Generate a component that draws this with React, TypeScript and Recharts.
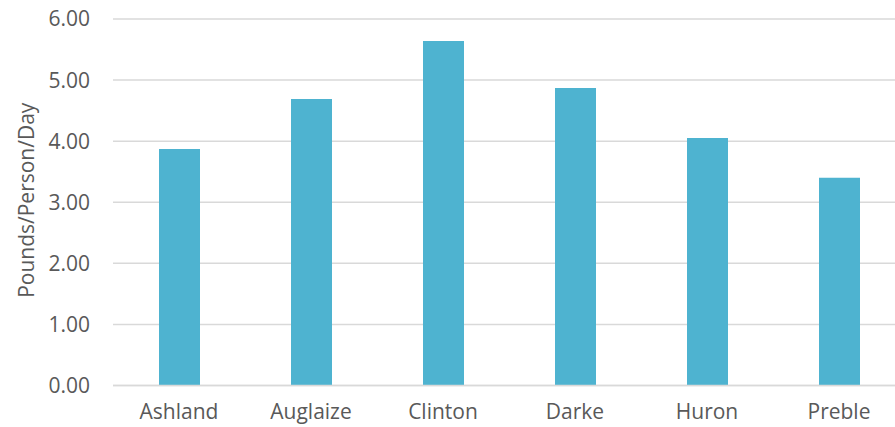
import { BarChart, Bar, XAxis, YAxis, CartesianGrid } from "recharts";

const BAR_BLUE = "#4EB3D0";
const GRID = "#D9D9D9";
const TEXT = "#595959";
const FONT = "'Open Sans', sans-serif";

// ── Data ─────────────────────────────────────────────────────────────────────
const counties = ["Ashland", "Auglaize", "Clinton", "Darke", "Huron", "Preble"];
const poundsPerPersonPerDay = [3.87, 4.69, 5.64, 4.87, 4.05, 3.4];
const yTicks = [0, 1, 2, 3, 4, 5, 6];

const data = counties.map((county, i) => ({
  county,
  value: poundsPerPersonPerDay[i],
}));

// rotated axis title, centred on the plot height
function YTitle({ viewBox }: any) {
  const cx = viewBox.x + 26;
  const cy = viewBox.y + viewBox.height / 2 - 2;
  return (
    <text
      x={cx}
      y={cy}
      transform={`rotate(-90, ${cx}, ${cy})`}
      textAnchor="middle"
      dominantBaseline="central"
      fill={TEXT}
      fontSize={21}
      fontFamily={FONT}
    >
      Pounds/Person/Day
    </text>
  );
}

export default function App() {
  return (
    <div style={{ width: 895, height: 427, overflow: "hidden", background: "#fff" }}>
      <style>{"body{margin:0;overflow:hidden}"}</style>
      <BarChart
        width={905}
        height={427}
        data={data}
        margin={{ top: 19, right: 0, bottom: 0, left: 0 }}
      >
        <CartesianGrid vertical={false} stroke={GRID} strokeWidth={1.5} />
        <XAxis
          dataKey="county"
          height={41.5}
          axisLine={{ stroke: GRID, strokeWidth: 1.5 }}
          tickLine={false}
          tickSize={0}
          tickMargin={19}
          interval={0}
          tick={{ fontSize: 21, fill: TEXT, fontFamily: FONT }}
        />
        <YAxis
          width={113}
          domain={[0, 6]}
          ticks={yTicks}
          tickFormatter={(v) => Number(v).toFixed(2)}
          axisLine={false}
          tickLine={false}
          tickSize={0}
          tickMargin={23}
          tick={{ fontSize: 21, fill: TEXT, fontFamily: FONT }}
          label={<YTitle />}
        />
        <Bar dataKey="value" fill={BAR_BLUE} barSize={41} isAnimationActive={false} />
      </BarChart>
    </div>
  );
}
